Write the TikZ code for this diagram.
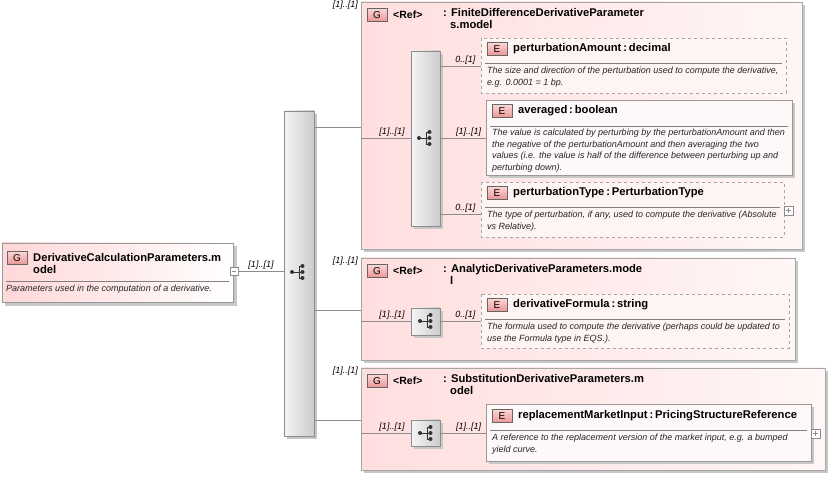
\documentclass[tikz,border=0pt]{standalone}
\usepackage{fontspec}
\setmainfont{Liberation Sans}
\begin{document}
\begin{tikzpicture}[x=1pt,y=-1pt,
  grp/.style={draw=black!35,right color={rgb,255:red,255;green,246;blue,246},left color={rgb,255:red,255;green,222;blue,222}},
  shadow/.style={fill=black!22,draw=none},
  el/.style={draw=black!40,fill={rgb,255:red,255;green,248;blue,248}},
  eld/.style={draw=black!35,dashed,fill={rgb,255:red,255;green,244;blue,244}},
  badge/.style={draw=black!60,top color={rgb,255:red,252;green,215;blue,215},bottom color={rgb,255:red,236;green,150;blue,150},minimum width=20pt,minimum height=13pt,inner sep=0pt,font=\fontsize{10}{10}\selectfont},
  ttl/.style={anchor=west,font=\bfseries\fontsize{11.2}{12}\selectfont,inner sep=0pt,align=left},
  dsc/.style={anchor=north west,font=\itshape\fontsize{9}{11.5}\selectfont,inner sep=0pt,align=left,text=black!85},
  card/.style={font=\itshape\fontsize{9}{9}\selectfont,inner sep=0pt,anchor=south,yshift=1pt},
  bar/.style={draw=black!45,left color=black!4,right color=black!20},
  ln/.style={draw=black!45},
  seqicon/.pic={\fill (-7pt,0pt) circle (2pt); \draw[line width=0.8pt] (-7pt,0pt)--(0pt,0pt) (0pt,-6pt)--(0pt,6pt)--(3.5pt,6pt) (0pt,0pt)--(3.5pt,0pt) (0pt,-6pt)--(3.5pt,-6pt);
     \fill (3.5pt,-6pt) circle (2pt) (3.5pt,0pt) circle (2pt) (3.5pt,6pt) circle (2pt);}
]
\useasboundingbox (0,0) rectangle (831,478);
% root
\fill[shadow] (5,246) rectangle (237,306);
\draw[draw=black!40,left color={rgb,255:red,255;green,215;blue,215},right color=white] (2,243) rectangle (233,302);
\node[badge] (rg) at (17,258) {G};
\node[ttl] (rt) at (33,263) {DerivativeCalculationParameters.m\\odel};
\draw[black!50] (6,281)--(229,281);
\node[dsc] (rd) at (6,285) {Parameters used in the computation of a derivative.};
\draw[black!45,fill=white] (230,267) rectangle (238,275); \draw[black!45] (232,271)--(236,271);
% big bar
\fill[shadow] (287,114) rectangle (317,439);
\path[bar] (284,111) rectangle (314,436);
\pic[black!80] at (299,272) {seqicon};
\coordinate (r1) at (238,271); \coordinate (b1) at (284,271);
\draw[ln] (r1)--(b1) node[card,midway] {[1]..[1]};
% groups
\fill[shadow] (364,5) rectangle (805,252);
\path[grp] (361,2) rectangle (802,249);
\fill[shadow] (364,261) rectangle (798,363);
\path[grp] (361,258) rectangle (795,360);
\fill[shadow] (364,371) rectangle (828,473);
\path[grp] (361,368) rectangle (825,470);
\draw[ln] (314,127)--(361,127) (314,310)--(361,310) (314,420)--(361,420);
\node[card,anchor=east] at (358,6) {[1]..[1]};
\node[card,anchor=east] at (358,262) {[1]..[1]};
\node[card,anchor=east] at (358,372) {[1]..[1]};
% group headers
\foreach \y/\t/\u in {15/FiniteDifferenceDerivativeParameter/s.model, 271/AnalyticDerivativeParameters.mode/l, 381/SubstitutionDerivativeParameters.m/odel}{
  \node[badge] at (377,\y) {G};
  \node[ttl,font=\bfseries\fontsize{10.5}{12}\selectfont] at (393,\y) {<Ref>};
  \node[ttl,anchor=north west] at (443,\y-7) {: \t\\\hspace{7pt}\u};
}
% group1 inner
\fill[shadow] (414,54) rectangle (443,229);
\path[bar] (411,51) rectangle (440,226);
\pic[black!80] at (426,138) {seqicon};
\draw[ln] (361,138)--(411,138) node[card,pos=0.62] {[1]..[1]};
% element 1
\path[eld] (481,38) rectangle (786,93);
\node[badge] at (497,49) {E};
\node[ttl] at (513,49) {perturbationAmount\,:\,decimal};
\draw[black!50] (485,63)--(782,63);
\node[dsc] at (487,67) {The size and direction of the perturbation used to compute the derivative,\\e.g. 0.0001 = 1 bp.};
\draw[ln] (440,66)--(481,66) node[card,pos=0.62] {0..[1]};
% element 2
\fill[shadow] (489,103) rectangle (795,178);
\path[el] (486,100) rectangle (792,175);
\node[badge] at (502,111) {E};
\node[ttl] at (518,111) {averaged\,:\,boolean};
\draw[black!50] (490,126)--(788,126);
\node[dsc] at (492,129) {The value is calculated by perturbing by the perturbationAmount and then\\the negative of the perturbationAmount and then averaging the two\\values (i.e. the value is half of the difference between perturbing up and\\perturbing down).};
\draw[ln] (440,138)--(486,138) node[card,pos=0.62] {[1]..[1]};
% element 3
\path[eld] (481,182) rectangle (784,237);
\node[badge] at (497,193) {E};
\node[ttl] at (513,193) {perturbationType\,:\,PerturbationType};
\draw[black!50] (485,207)--(780,207);
\node[dsc] at (487,211) {The type of perturbation, if any, used to compute the derivative (Absolute\\vs Relative).};
\draw[ln] (440,214)--(481,214) node[card,pos=0.62] {0..[1]};
\draw[black!45,fill=white] (784,206) rectangle (793,215); \draw[black!45] (786,210.5)--(791,210.5) (788.5,208)--(788.5,213);
% group2 inner
\fill[shadow] (414,311) rectangle (443,338);
\path[bar] (411,308) rectangle (440,335);
\pic[black!80] at (427,321) {seqicon};
\draw[ln] (361,321)--(411,321) node[card,pos=0.62] {[1]..[1]};
\path[eld] (481,294) rectangle (789,348);
\node[badge] at (497,305) {E};
\node[ttl] at (513,305) {derivativeFormula\,:\,string};
\draw[black!50] (485,319)--(785,319);
\node[dsc] at (487,323) {The formula used to compute the derivative (perhaps could be updated to\\use the Formula type in EQS.).};
\draw[ln] (440,321)--(481,321) node[card,pos=0.62] {0..[1]};
% group3 inner
\fill[shadow] (414,423) rectangle (443,449);
\path[bar] (411,420) rectangle (440,446);
\pic[black!80] at (427,433) {seqicon};
\draw[ln] (361,433)--(411,433) node[card,pos=0.62] {[1]..[1]};
\fill[shadow] (489,407) rectangle (814,464);
\path[el] (486,404) rectangle (811,461);
\node[badge] at (502,416) {E};
\node[ttl] at (518,416) {replacementMarketInput\,:\,PricingStructureReference};
\draw[black!50] (490,430)--(807,430);
\node[dsc] at (492,434) {A reference to the replacement version of the market input, e.g. a bumped\\yield curve.};
\draw[ln] (440,433)--(486,433) node[card,pos=0.62] {[1]..[1]};
\draw[black!45,fill=white] (811,429) rectangle (820,438); \draw[black!45] (813,433.5)--(818,433.5) (815.5,431)--(815.5,436);
\end{tikzpicture}
\end{document}
